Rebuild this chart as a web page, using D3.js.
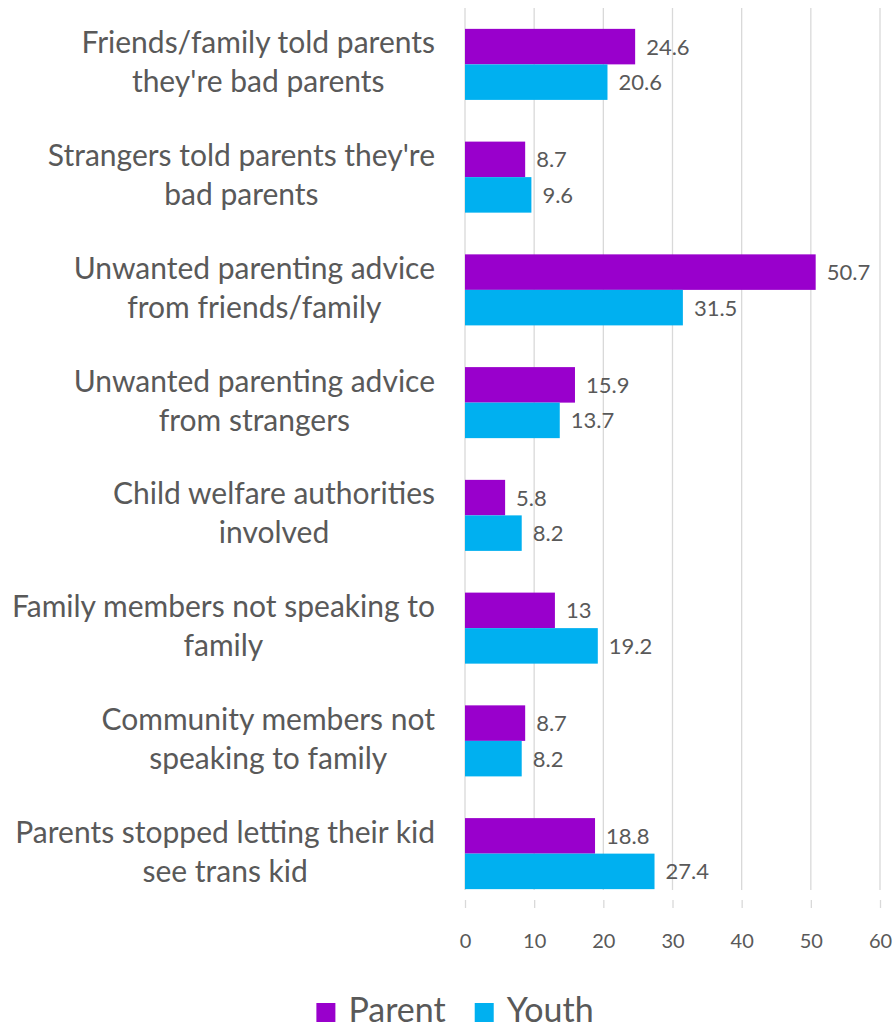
<!DOCTYPE html>
<html>
<head>
<meta charset="utf-8">
<script src="https://cdn.jsdelivr.net/npm/d3@7"></script>
<style>
  html, body { margin: 0; padding: 0; background: #ffffff; }
  svg { display: block; }
</style>
</head>
<body>
<svg id="chart" width="894" height="1029"></svg>
<script>
// Categories (line breaks mark where each label wraps)
const categories = [
  "Friends/family told parents\nthey're bad parents",
  "Strangers told parents they're\nbad parents",
  "Unwanted parenting advice\nfrom friends/family",
  "Unwanted parenting advice\nfrom strangers",
  "Child welfare authorities\ninvolved",
  "Family members not speaking to\nfamily",
  "Community members not\nspeaking to family",
  "Parents stopped letting their kid\nsee trans kid"
];
const seriesNames = ["Parent", "Youth"];
const parentValues = [24.6, 8.7, 50.7, 15.9, 5.8, 13, 8.7, 18.8];
const youthValues = [20.6, 9.6, 31.5, 13.7, 8.2, 19.2, 8.2, 27.4];
const xTicks = [0, 10, 20, 30, 40, 50, 60];

const colors = { Parent: "#9900CC", Youth: "#00B0F0" };
const textColor = "#595959";
const gridColor = "#D9D9D9";
const font = "Lato, 'Open Sans', sans-serif";

const rows = categories.map((c, i) => ({
  category: c,
  Parent: parentValues[i],
  Youth: youthValues[i]
}));

const svg = d3.select("#chart");

const plotLeft = 465, plotRight = 880, plotTop = 8, plotBottom = 890;

const x = d3.scaleLinear().domain([0, 60]).range([plotLeft, plotRight]);
const y = d3.scaleBand().domain(categories).range([plotTop, 910])
  .paddingInner(0.37).paddingOuter(0.185);
const ySub = d3.scaleBand().domain(seriesNames).range([0, y.bandwidth()]);

// vertical gridlines
svg.append("g").selectAll("line").data(xTicks).join("line")
  .attr("x1", d => x(d)).attr("x2", d => x(d))
  .attr("y1", plotTop).attr("y2", plotBottom)
  .attr("stroke", gridColor).attr("stroke-width", 1.3);

// x axis: ticks below the plot, no baseline
const xAxis = d3.axisBottom(x).tickValues(xTicks).tickSize(8).tickPadding(26)
  .tickFormat(d3.format("d"));
const gx = svg.append("g").attr("transform", `translate(0,${plotBottom + 10})`).call(xAxis);
gx.select(".domain").remove();
gx.selectAll(".tick line").attr("stroke", gridColor).attr("stroke-width", 1.3);
gx.selectAll(".tick text")
  .attr("fill", textColor).style("font-family", font).style("font-size", "20px");

// bars
const groups = svg.append("g").selectAll("g").data(rows).join("g")
  .attr("transform", d => `translate(0,${y(d.category)})`);

groups.selectAll("rect").data(d => seriesNames.map(s => ({ s, v: d[s] }))).join("rect")
  .attr("x", x(0))
  .attr("y", d => ySub(d.s))
  .attr("width", d => x(d.v) - x(0))
  .attr("height", ySub.bandwidth())
  .attr("fill", d => colors[d.s]);

// value labels
groups.selectAll("text.val").data(d => seriesNames.map(s => ({ s, v: d[s] }))).join("text")
  .attr("class", "val")
  .attr("x", d => x(d.v) + 11)
  .attr("y", d => ySub(d.s) + ySub.bandwidth() / 2)
  .attr("dy", "0.36em")
  .attr("fill", textColor)
  .style("font-family", font).style("font-size", "22px")
  .text(d => d.v);

// category labels: each block centred on itself, right edge at a common line
const labelRight = 435;
const lineGap = 39;
const labels = svg.append("g").selectAll("text").data(categories).join("text")
  .attr("fill", textColor)
  .style("font-family", font).style("font-size", "30px")
  .attr("text-anchor", "middle");

labels.each(function (c) {
  const t = d3.select(this);
  const lines = c.split("\n");
  const cy = y(c) + y.bandwidth() / 2;
  lines.forEach((ln, j) => {
    t.append("tspan").attr("y", cy - 11 + j * lineGap).text(ln);
  });
  let w = 0;
  t.selectAll("tspan").each(function () { w = Math.max(w, this.getComputedTextLength()); });
  const cx = labelRight - w / 2;
  t.selectAll("tspan").attr("x", cx);
});

// legend
const legend = svg.append("g");
const legendItems = legend.selectAll("g").data(seriesNames).join("g");
legendItems.append("rect")
  .attr("width", 19).attr("height", 19)
  .attr("y", 1003)
  .attr("fill", d => colors[d]);
legendItems.append("text")
  .attr("y", 1022)
  .attr("fill", textColor)
  .style("font-family", font).style("font-size", "34px")
  .text(d => d);
let cursor = 0;
legendItems.each(function () {
  const g = d3.select(this);
  const tw = g.select("text").node().getComputedTextLength();
  g.select("rect").attr("x", cursor);
  g.select("text").attr("x", cursor + 32);
  cursor += 32 + tw + 29;
});
const totalW = cursor - 29;
legend.attr("transform", `translate(${455 - totalW / 2},0)`);
</script>
</body>
</html>
